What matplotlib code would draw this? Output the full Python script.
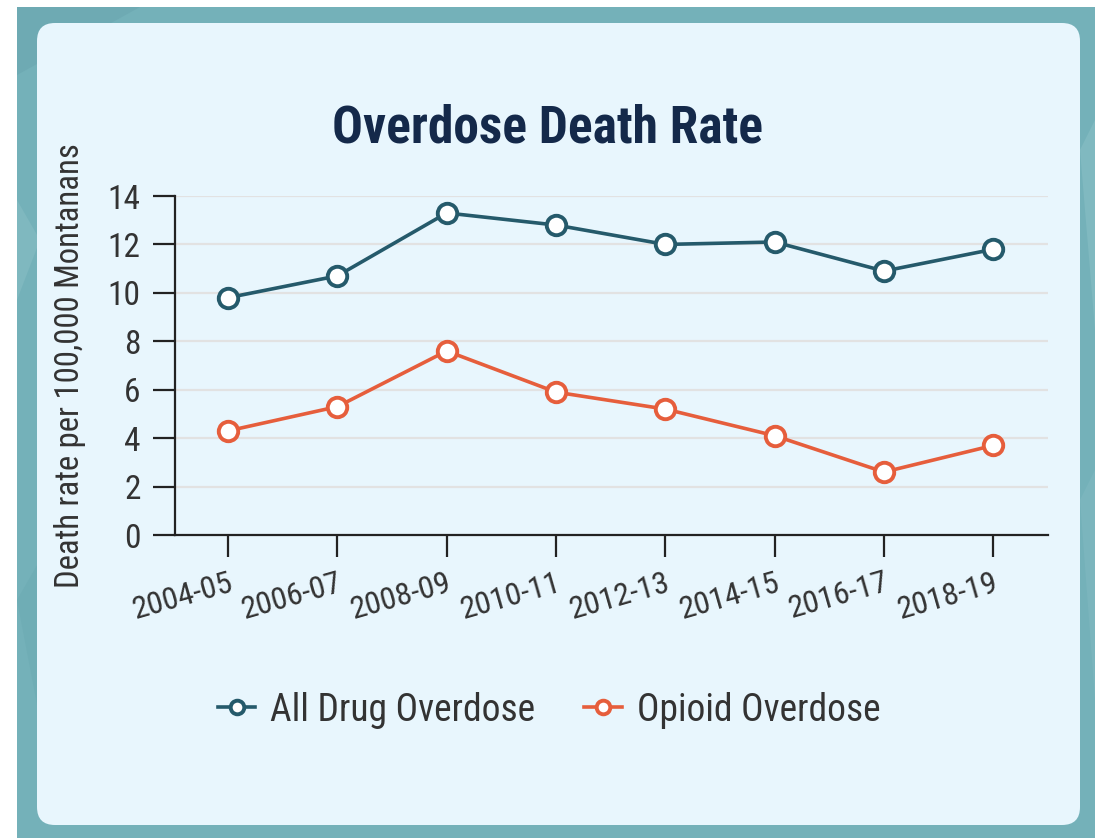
import matplotlib
matplotlib.use("Agg")
import matplotlib.pyplot as plt
from matplotlib.patches import FancyBboxPatch, Rectangle, Polygon

# Fonts: condensed first if it exists, else plain Roboto
plt.rcParams['font.family'] = ['Roboto Condensed', 'Roboto', 'DejaVu Sans']

# Data
periods = ["2004-05", "2006-07", "2008-09", "2010-11",
           "2012-13", "2014-15", "2016-17", "2018-19"]
all_drug = [9.8, 10.7, 13.3, 12.8, 12.0, 12.1, 10.9, 11.8]
opioid = [4.3, 5.3, 7.6, 5.9, 5.2, 4.1, 2.6, 3.7]
y_ticks = [0, 2, 4, 6, 8, 10, 12, 14]

# Colours
teal_bg = "#74b1b9"
card_bg = "#e8f6fd"
dark_teal = "#255a6b"
orange = "#e65e3c"
title_col = "#14294a"
text_col = "#333333"

W, H = 1099, 838
fig = plt.figure(figsize=(W / 100, H / 100), dpi=100)
fig.patch.set_facecolor("white")

# Background layer in pixel coords
bg = fig.add_axes([0, 0, 1, 1], zorder=-1)
bg.set_xlim(0, W)
bg.set_ylim(H, 0)
bg.axis("off")
bg.add_patch(Rectangle((17, 7), 1078, 831, color=teal_bg, lw=0))
# a few faint facets in the border pattern
bg.add_patch(Polygon([(17, 7), (140, 7), (17, 75)], color="#6eaab3", lw=0))
bg.add_patch(Polygon([(17, 200), (40, 240), (17, 300)], color="#7fb8bf", lw=0))
bg.add_patch(Polygon([(17, 600), (40, 560), (40, 720)], color="#6fadb5", lw=0))
bg.add_patch(Polygon([(1080, 150), (1095, 120), (1095, 330)], color="#80b9c0", lw=0))
bg.add_patch(Polygon([(1080, 500), (1095, 470), (1095, 700)], color="#7bb5bd", lw=0))
bg.add_patch(FancyBboxPatch((37, 23), 1043, 802,
                            boxstyle="round,pad=0,rounding_size=18",
                            fc=card_bg, ec="none"))

# Chart axes
left, right, top, bottom = 175, 1048, 196, 535
ax = fig.add_axes([left / W, 1 - bottom / H, (right - left) / W, (bottom - top) / H])
ax.set_facecolor("none")

x = list(range(len(periods)))
ax.plot(x, all_drug, color=dark_teal, lw=2.6, marker="o", ms=14,
        mfc="white", mec=dark_teal, mew=2.8, label="All Drug Overdose",
        zorder=3, clip_on=False)
ax.plot(x, opioid, color=orange, lw=2.6, marker="o", ms=14,
        mfc="white", mec=orange, mew=2.8, label="Opioid Overdose",
        zorder=3, clip_on=False)

ax.set_xlim(-0.485, 7.5)
ax.set_ylim(0, 14)
ax.set_yticks(y_ticks)
ax.set_xticks(x)
ax.set_xticklabels(periods, rotation=16, ha="right", va="top",
                   rotation_mode="anchor")
for v in y_ticks[1:]:
    ax.axhline(v, color="#e2e2e2", lw=1.6, zorder=1)

for s in ["top", "right"]:
    ax.spines[s].set_visible(False)
for s in ["left", "bottom"]:
    ax.spines[s].set_color("#222222")
    ax.spines[s].set_linewidth(1.6)
ax.tick_params(axis="both", length=15.8, width=1.6, color="#222222",
               labelcolor=text_col)
ax.tick_params(axis="y", pad=9, labelsize=24)
ax.tick_params(axis="x", pad=8, labelsize=23)

ax.set_ylabel("Death rate per 100,000 Montanans", fontsize=23.5,
              color=text_col)
ax.yaxis.set_label_coords(-0.102, 0.5, transform=ax.transAxes)

fig.text(548 / W, 1 - 128 / H, "Overdose Death Rate", ha="center",
         va="center", fontsize=37, fontweight="bold", color=title_col)

leg = fig.legend(loc="center", bbox_to_anchor=(549 / W, 1 - 710 / H), ncol=2,
                 frameon=False, fontsize=27, handlelength=1.0,
                 columnspacing=1.3, handletextpad=0.4, markerscale=0.7,
                 labelcolor=text_col)

fig.savefig("out.png", dpi=100)
